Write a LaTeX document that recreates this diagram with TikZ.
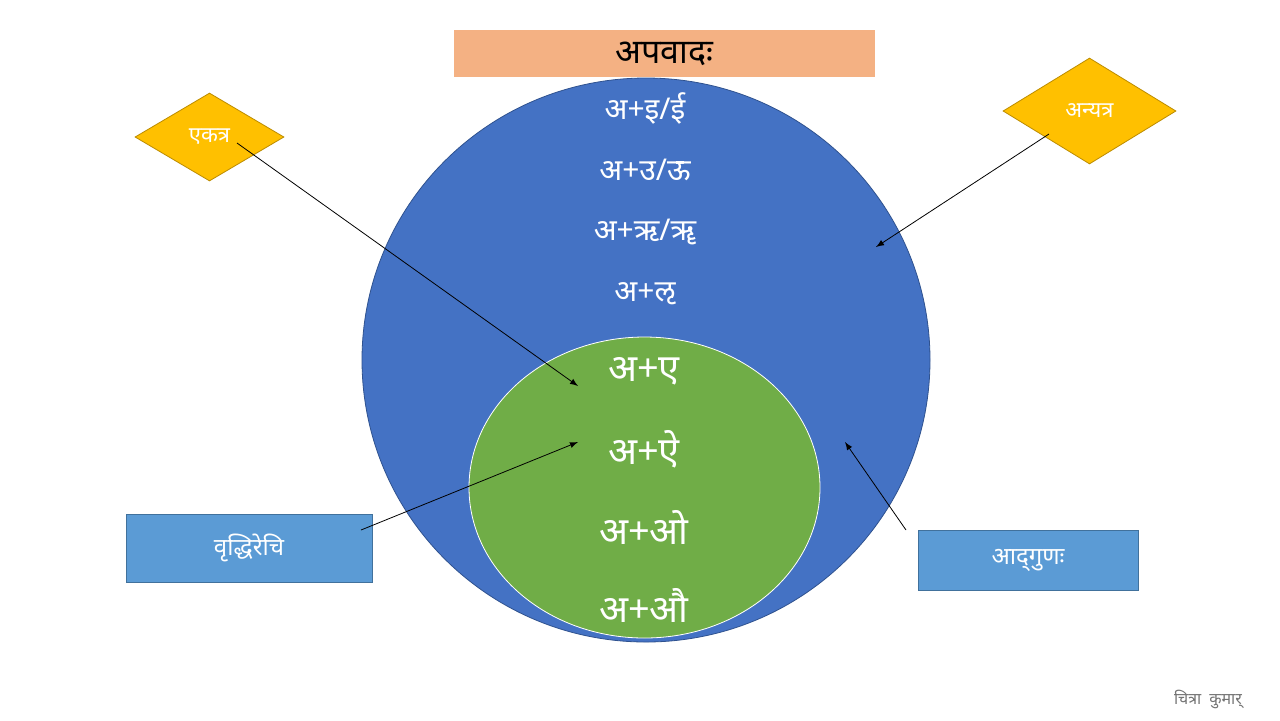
\documentclass[tikz,border=0pt]{standalone}
\usepackage{fontspec}
\newfontfamily\devfont[Script=Devanagari]{Noto Sans}
\usetikzlibrary{shapes.geometric}

\definecolor{titlefill}{HTML}{F4B183}
\definecolor{bigblue}{HTML}{4472C4}
\definecolor{bigblueline}{HTML}{2F528F}
\definecolor{innergreen}{HTML}{70AD47}
\definecolor{gold}{HTML}{FFC000}
\definecolor{goldline}{HTML}{BC8C00}
\definecolor{boxblue}{HTML}{5B9BD5}
\definecolor{boxline}{HTML}{41719C}

\begin{document}
\begin{tikzpicture}[x=0.5pt, y=-0.5pt,
		devtext/.style={font=\devfont\fontsize{#1}{#1}\selectfont, text=white, inner sep=0pt},
		tagdiamond/.style={diamond, draw=goldline, fill=gold, inner sep=0pt,
			font=\devfont\fontsize{11}{11}\selectfont, text=white},
		tagbox/.style={rectangle, draw=boxline, fill=boxblue, inner sep=0pt,
			font=\devfont\fontsize{12}{12}\selectfont, text=white},
		pointer/.style={-latex, thin, black}]

		% page frame
		\useasboundingbox (0,0) rectangle (1280,720);
		\fill[white] (0,0) rectangle (1280,720);

		% big circle and inner ellipse
		\draw[bigblueline, fill=bigblue] (646,360) ellipse (284 and 282);
		\draw[white, fill=innergreen] (644.5,487.5) ellipse (175.5 and 150.5);

		% heading
		\node[fill=titlefill, minimum width=210.5pt, minimum height=23.5pt, inner sep=0pt,
			font=\devfont\fontsize{17}{17}\selectfont] (apavada) at (664.5,53.5) {अपवादः};

		% rows in the blue part
		\foreach \txt [count=\i from 0] in {अ+इ/ई, अ+उ/ऊ, अ+ऋ/ॠ, अ+ऌ}
			\node[devtext=15] (blue\i) at (645,{108 + 62*\i}) {\txt};

		% rows in the green part
		\foreach \txt [count=\i from 0] in {अ+ए, अ+ऐ, अ+ओ, अ+औ}
			\node[devtext=19] (green\i) at (644,{371 + 78*\i}) {\txt};

		% side tags
		\node[tagdiamond, minimum width=74.5pt, minimum height=44pt] (ekatra) at (209.5,137) {एकत्र};
		\node[tagdiamond, minimum width=86.5pt, minimum height=53pt] (anyatra) at (1089.5,111) {अन्यत्र};
		\node[tagbox, minimum width=123pt, minimum height=34pt] (vrddhi) at (249,548) {वृद्धिरेचि};
		\node[tagbox, minimum width=110pt, minimum height=30pt] (adgunah) at (1028,560) {आद्^^^^200cगुणः};

		% arrow ends
		\coordinate (ekatraout) at (237,143);
		\coordinate (anyatraout) at (1049,134);
		\coordinate (vrddhiout) at (361,530);
		\coordinate (adgunahout) at (906,530);
		\coordinate (ekatrain) at (578,386);
		\coordinate (anyatrain) at (876,247);
		\coordinate (vrddhiin) at (578,442);
		\coordinate (adgunahin) at (845,442);

		\draw[pointer] (ekatraout) -- (ekatrain);
		\draw[pointer] (anyatraout) -- (anyatrain);
		\draw[pointer] (vrddhiout) -- (vrddhiin);
		\draw[pointer] (adgunahout) -- (adgunahin);

		% signature
		\node[font=\devfont\fontsize{8}{8}\selectfont, text=black!55] (sign) at (1208,699) {चित्रा\hspace{4pt}कुमार्};
	\end{tikzpicture}
\end{document}
